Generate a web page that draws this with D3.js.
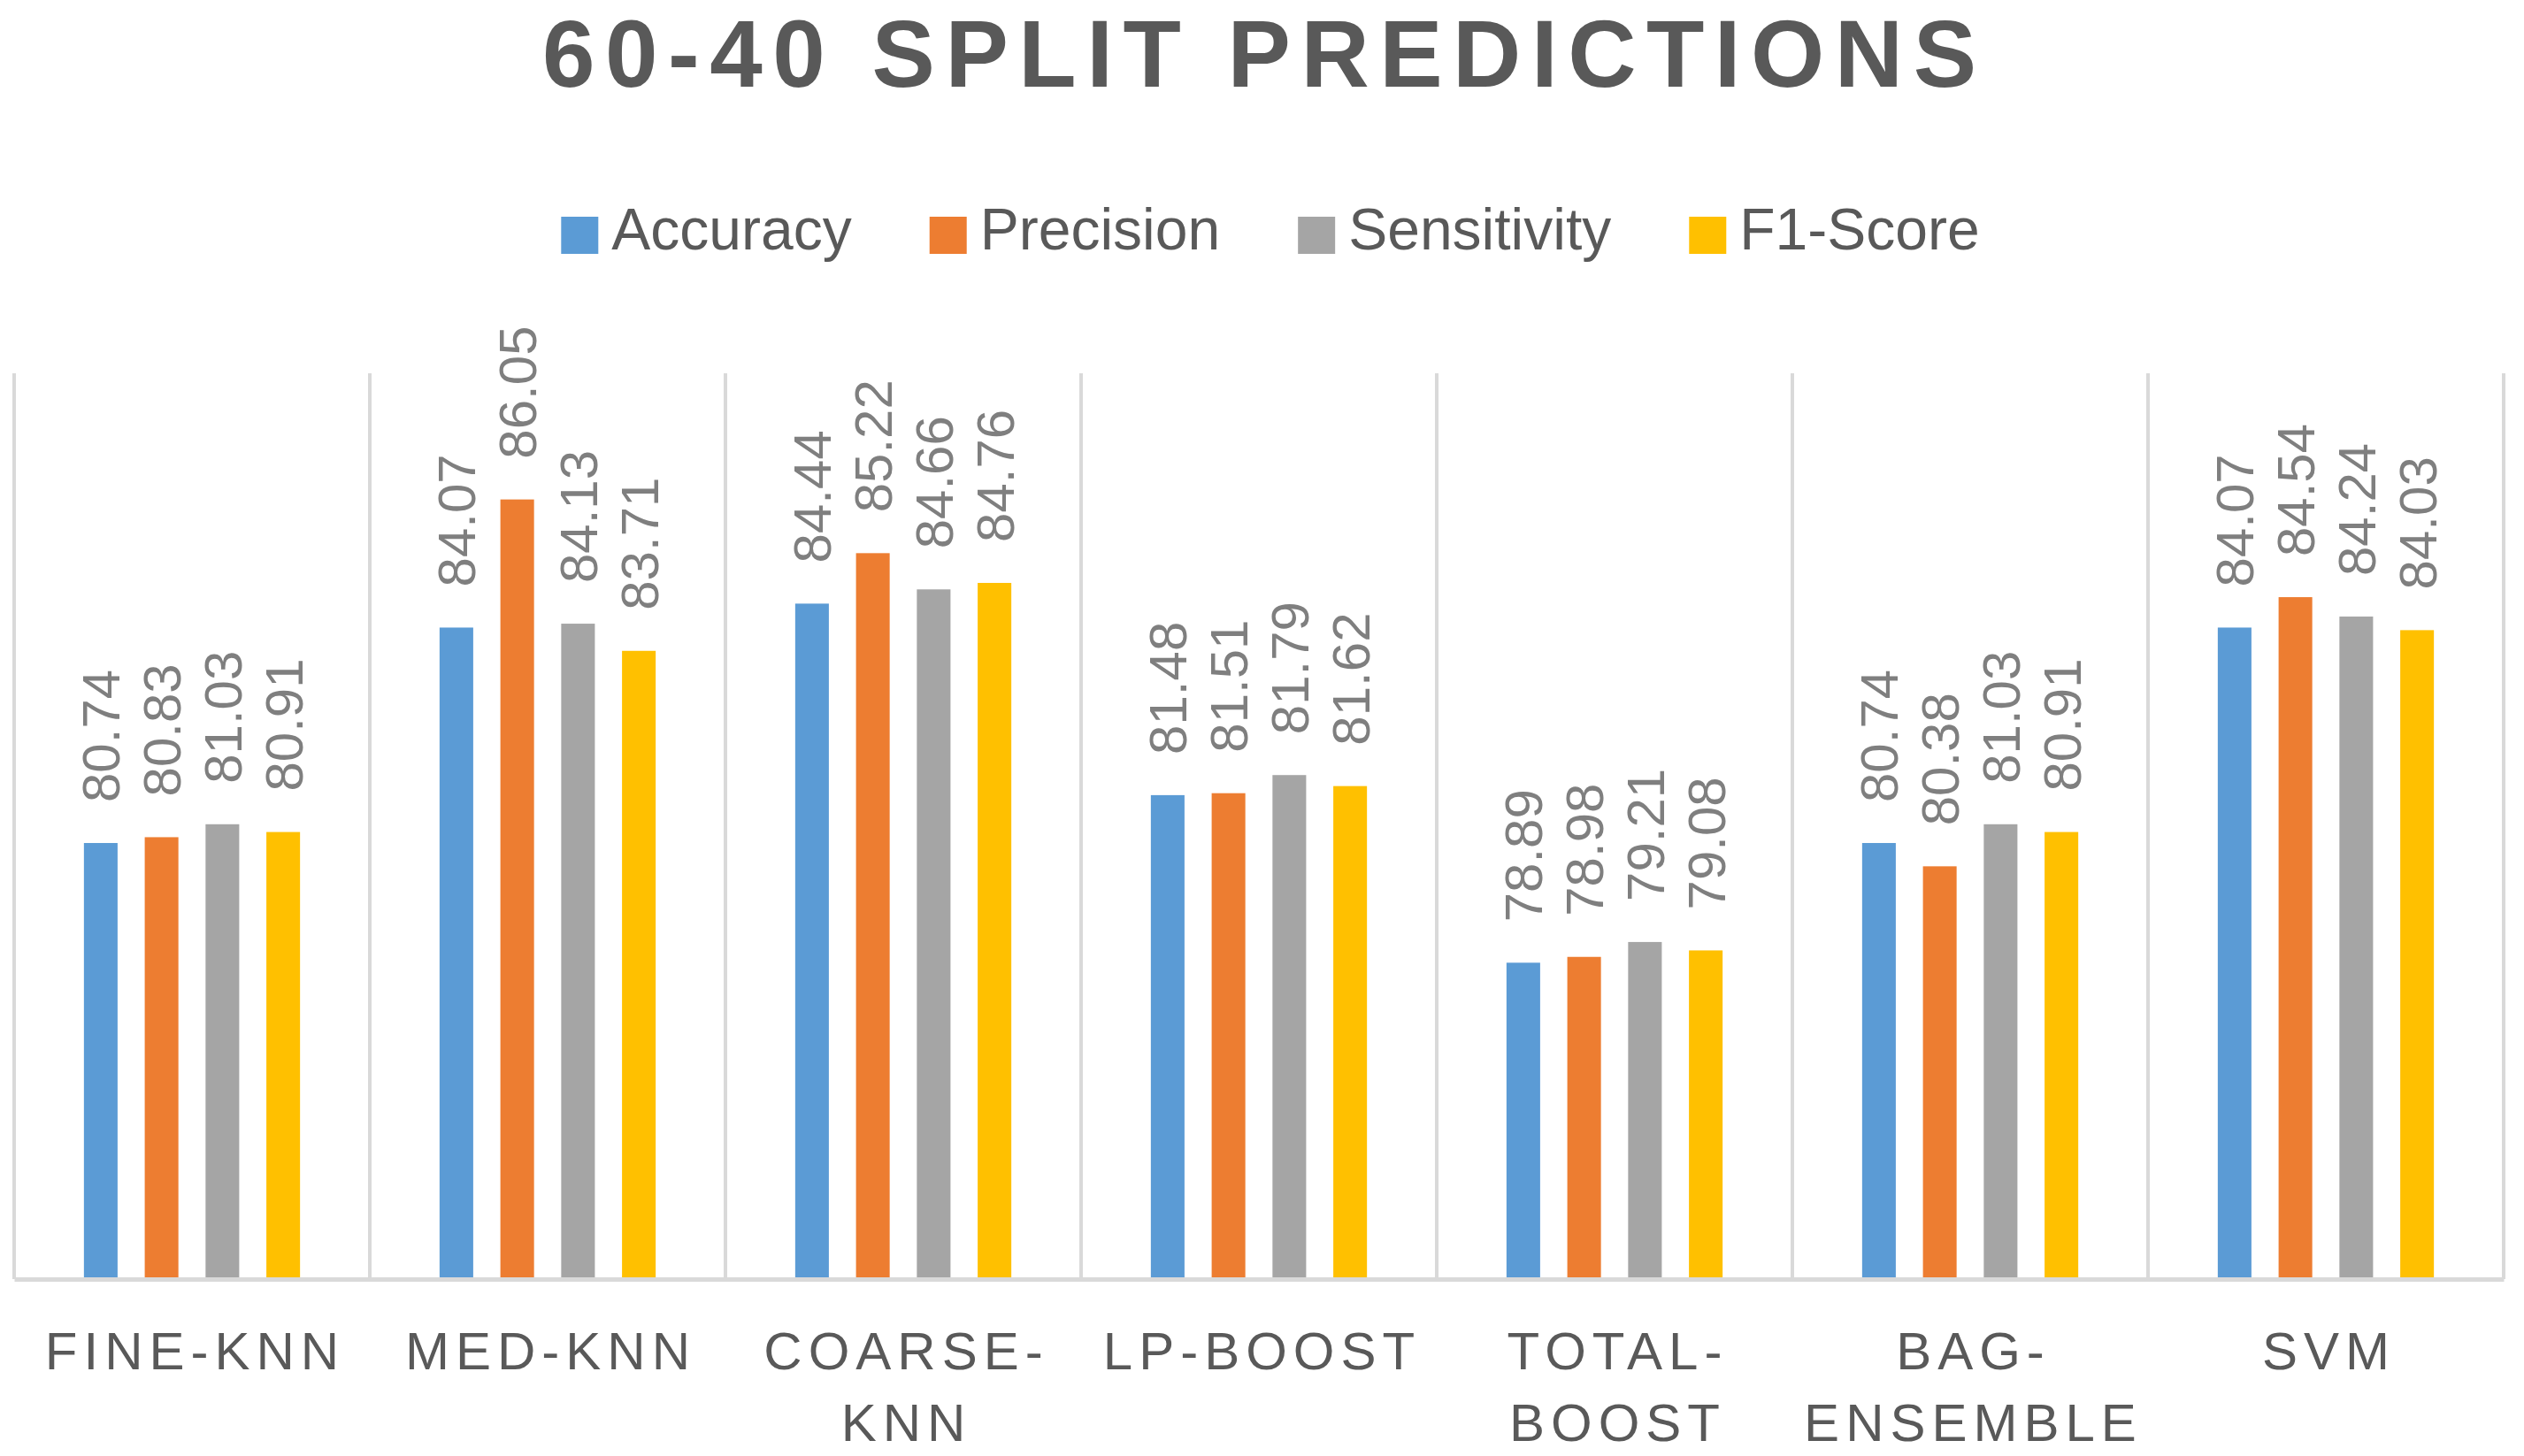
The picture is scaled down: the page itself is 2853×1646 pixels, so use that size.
<!DOCTYPE html>
<html>
<head>
<meta charset="utf-8">
<script src="https://cdn.jsdelivr.net/npm/d3@7"></script>
<style>
  html, body { margin: 0; padding: 0; background: #ffffff; }
  svg { display: block; }
</style>
</head>
<body>
<script>
// ---- Data ----
const categories = ["FINE-KNN", "MED-KNN", "COARSE-KNN", "LP-BOOST", "TOTAL-BOOST", "BAG-ENSEMBLE", "SVM"];
const tickLines = [["FINE-KNN"], ["MED-KNN"], ["COARSE-", "KNN"], ["LP-BOOST"], ["TOTAL-", "BOOST"], ["BAG-", "ENSEMBLE"], ["SVM"]];
const seriesNames = ["Accuracy", "Precision", "Sensitivity", "F1-Score"];
const accuracy    = [80.74, 84.07, 84.44, 81.48, 78.89, 80.74, 84.07];
const precision   = [80.83, 86.05, 85.22, 81.51, 78.98, 80.38, 84.54];
const sensitivity = [81.03, 84.13, 84.66, 81.79, 79.21, 81.03, 84.24];
const f1score     = [80.91, 83.71, 84.76, 81.62, 79.08, 80.91, 84.03];
const seriesColors = ["#5b9bd5", "#ed7d31", "#a5a5a5", "#ffc000"];
const titleText = "60-40 SPLIT PREDICTIONS";
const yDomain = [74, 88];

const seriesValues = [accuracy, precision, sensitivity, f1score];
const rows = categories.map((c, i) => ({
  cat: c,
  vals: seriesNames.map((s, j) => ({ s, v: seriesValues[j][i], color: seriesColors[j] }))
}));

// ---- Layout ----
const W = 2853, H = 1646;
const plotLeft = 16, plotRight = 2830, plotTop = 422, plotBottom = 1446;
const FONT = "'Liberation Sans', Arial, sans-serif";

const svg = d3.select("body").append("svg")
  .attr("width", W).attr("height", H)
  .style("background", "#ffffff");

const x0 = d3.scaleBand().domain(categories).range([plotLeft, plotRight]).paddingInner(0).paddingOuter(0);
const x1 = d3.scaleBand().domain(seriesNames).range([0, x0.bandwidth()]).paddingInner(0.4466).paddingOuter(1.147);
const y = d3.scaleLinear().domain(yDomain).range([plotBottom, plotTop]);

// Vertical separators
const sepX = categories.map(c => x0(c)).concat([plotRight]);
svg.append("g").selectAll("line").data(sepX).join("line")
  .attr("x1", d => d).attr("x2", d => d)
  .attr("y1", plotTop).attr("y2", plotBottom)
  .attr("stroke", "#d9d9d9").attr("stroke-width", 4);

// Bars
const groups = svg.append("g").selectAll("g").data(rows).join("g")
  .attr("transform", d => `translate(${x0(d.cat)},0)`);

groups.selectAll("rect").data(d => d.vals).join("rect")
  .attr("x", d => x1(d.s))
  .attr("width", x1.bandwidth())
  .attr("y", d => y(d.v))
  .attr("height", d => plotBottom - y(d.v))
  .attr("fill", d => d.color);

// Data labels (rotated)
groups.selectAll("text").data(d => d.vals).join("text")
  .attr("transform", d => `translate(${x1(d.s) + x1.bandwidth() / 2},${y(d.v) - 46}) rotate(-90)`)
  .attr("dy", "0.36em")
  .attr("text-anchor", "start")
  .attr("font-family", FONT)
  .attr("font-size", 60)
  .attr("fill", "#7f7f7f")
  .text(d => d.v.toFixed(2));

// X axis
const xAxis = d3.axisBottom(x0).tickSizeInner(0).tickSizeOuter(0).tickPadding(0);
const axisG = svg.append("g")
  .attr("transform", `translate(0,${plotBottom})`)
  .call(xAxis);
axisG.select(".domain").attr("stroke", "#d9d9d9").attr("stroke-width", 5);
const LS = 7;
axisG.selectAll(".tick text")
  .attr("font-family", FONT)
  .attr("font-size", 60)
  .attr("fill", "#595959")
  .attr("letter-spacing", LS)
  .attr("text-anchor", "middle")
  .attr("y", 0).attr("dy", null)
  .each(function(d, i) {
    const t = d3.select(this);
    t.text(null);
    tickLines[i].forEach((line, k) => {
      t.append("tspan")
        .attr("x", LS / 2)
        .attr("y", 102 + k * 81)
        .text(line);
    });
  });

// Title
svg.append("text")
  .attr("x", 613).attr("y", 98)
  .attr("font-family", FONT)
  .attr("font-size", 107)
  .attr("font-weight", "bold")
  .attr("fill", "#595959")
  .attr("textLength", 1621)
  .attr("lengthAdjust", "spacing")
  .text(titleText);

// Legend
const legendG = svg.append("g");
const items = legendG.selectAll("g").data(seriesNames).join("g");
items.append("rect")
  .attr("width", 42).attr("height", 42)
  .attr("y", 245)
  .attr("fill", (d, i) => seriesColors[i]);
items.append("text")
  .attr("x", 57).attr("y", 282)
  .attr("font-family", FONT)
  .attr("font-size", 66)
  .attr("fill", "#595959")
  .text(d => d);
let cx = 0;
const itemGap = 88;
const offsets = [];
items.each(function() {
  const tw = d3.select(this).select("text").node().getComputedTextLength();
  offsets.push(cx);
  cx += 57 + tw + itemGap;
});
const totalW = cx - itemGap;
const legendStart = 1436 - totalW / 2;
items.attr("transform", (d, i) => `translate(${legendStart + offsets[i]},0)`);
</script>
</body>
</html>
